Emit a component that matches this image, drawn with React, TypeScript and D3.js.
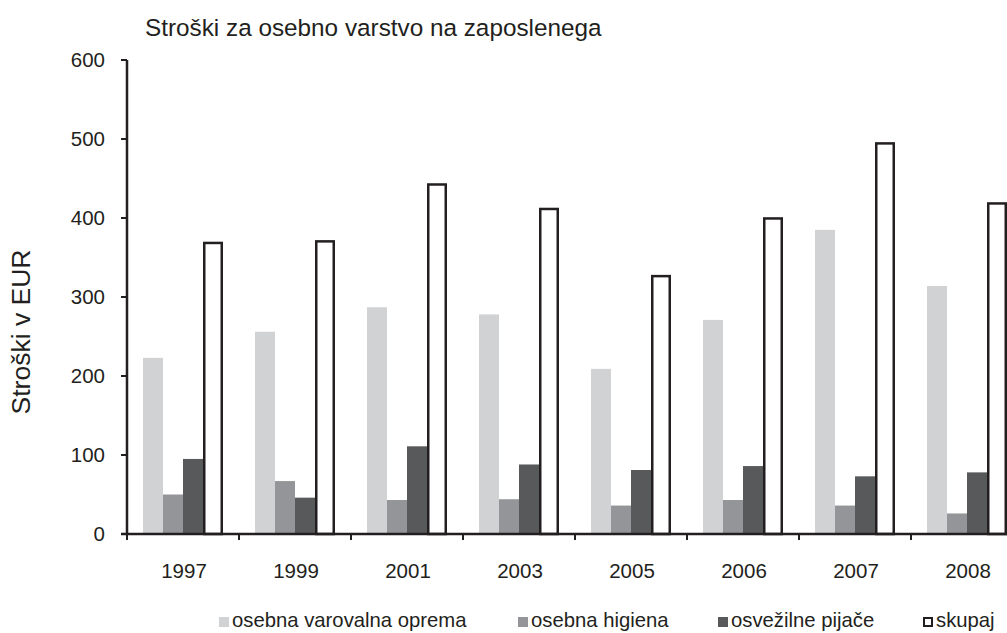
import React from "react";
import * as d3 from "d3";

const years = ["1997", "1999", "2001", "2003", "2005", "2006", "2007", "2008"];
const seriesNames = ["osebna varovalna oprema", "osebna higiena", "osvežilne pijače", "skupaj"];
const varovalna = [223, 256, 287, 278, 209, 271, 385, 314];
const higiena = [50, 67, 43, 44, 36, 43, 36, 26];
const pijace = [95, 46, 111, 88, 81, 86, 73, 78];
const skupaj = [370, 372, 444, 413, 328, 401, 496, 420];
const yTicks = [0, 100, 200, 300, 400, 500, 600];

const title = "Stroški za osebno varstvo na zaposlenega";
const yTitle = "Stroški v EUR";

const colors = ["#d1d2d4", "#939598", "#58595b", "#ffffff"];
const strokeCol = "#231f20";
const FONT = "'Liberation Sans', Arial, Helvetica, sans-serif";

export default function App() {
  const W = 1007, H = 633;
  const x0 = 127;
  const bandW = 112;
  const x = d3.scaleBand<string>().domain(years).range([x0, x0 + bandW * years.length]).paddingInner(0).paddingOuter(0);
  const inner = d3.scaleBand<number>().domain([0, 1, 2, 3]).range([16, 96]);
  const y = d3.scaleLinear().domain([0, 600]).range([534, 60]);
  const data = [varovalna, higiena, pijace, skupaj];

  const legendX = [219, 518, 718, 923];

  return (
    <svg width={W} height={H} style={{ position: "absolute", left: 0, top: 0, background: "#fff" }} fontFamily={FONT}>
      <rect x={0} y={0} width={W} height={H} fill="#fff" />
      <text x={145} y={36} fontSize={24.3} fill={strokeCol}>{title}</text>
      <text transform={`translate(30,332) rotate(-90)`} textAnchor="middle" fontSize={26.5} fill={strokeCol}>{yTitle}</text>

      {data.map((vals, si) =>
        vals.map((v, i) => {
          const bx = (x(years[i]) as number) + (inner(si) as number);
          const bw = inner.bandwidth();
          if (si === 3) {
            return (
              <rect key={`${si}-${i}`} x={bx + 1.25} y={y(v) + 1.25} width={bw - 2.5} height={y(0) - y(v) - 1.25}
                fill="#fff" stroke={strokeCol} strokeWidth={2.5} />
            );
          }
          return <rect key={`${si}-${i}`} x={bx} y={y(v)} width={bw} height={y(0) - y(v)} fill={colors[si]} />;
        })
      )}

      {/* y axis */}
      <line x1={x0} x2={x0} y1={y(600)} y2={y(0) + 1} stroke={strokeCol} strokeWidth={2.5} />
      {yTicks.map((t) => (
        <g key={t}>
          <line x1={x0 - 6} x2={x0} y1={y(t)} y2={y(t)} stroke={strokeCol} strokeWidth={2} />
          <text x={105} y={y(t) + 7} textAnchor="end" fontSize={20.5} fill={strokeCol}>{t}</text>
        </g>
      ))}

      {/* x axis */}
      <line x1={x0 - 6} x2={W} y1={y(0)} y2={y(0)} stroke={strokeCol} strokeWidth={2.5} />
      {years.map((yr) => (
        <g key={yr}>
          <line x1={(x(yr) as number)} x2={(x(yr) as number)} y1={y(0)} y2={y(0) + 6} stroke={strokeCol} strokeWidth={2} />
          <text x={(x(yr) as number) + bandW / 2 + 1} y={578} textAnchor="middle" fontSize={20.5} fill={strokeCol}>{yr}</text>
        </g>
      ))}

      {/* legend */}
      {seriesNames.map((n, i) => (
        <g key={n}>
          {i === 3 ? (
            <rect x={legendX[i] + 1} y={617 + 1} width={8} height={8} fill="#fff" stroke={strokeCol} strokeWidth={2} />
          ) : (
            <rect x={legendX[i]} y={617} width={10} height={10} fill={colors[i]} />
          )}
          <text x={legendX[i] + 13} y={627} fontSize={20.3} fill={strokeCol}>{n}</text>
        </g>
      ))}
    </svg>
  );
}
